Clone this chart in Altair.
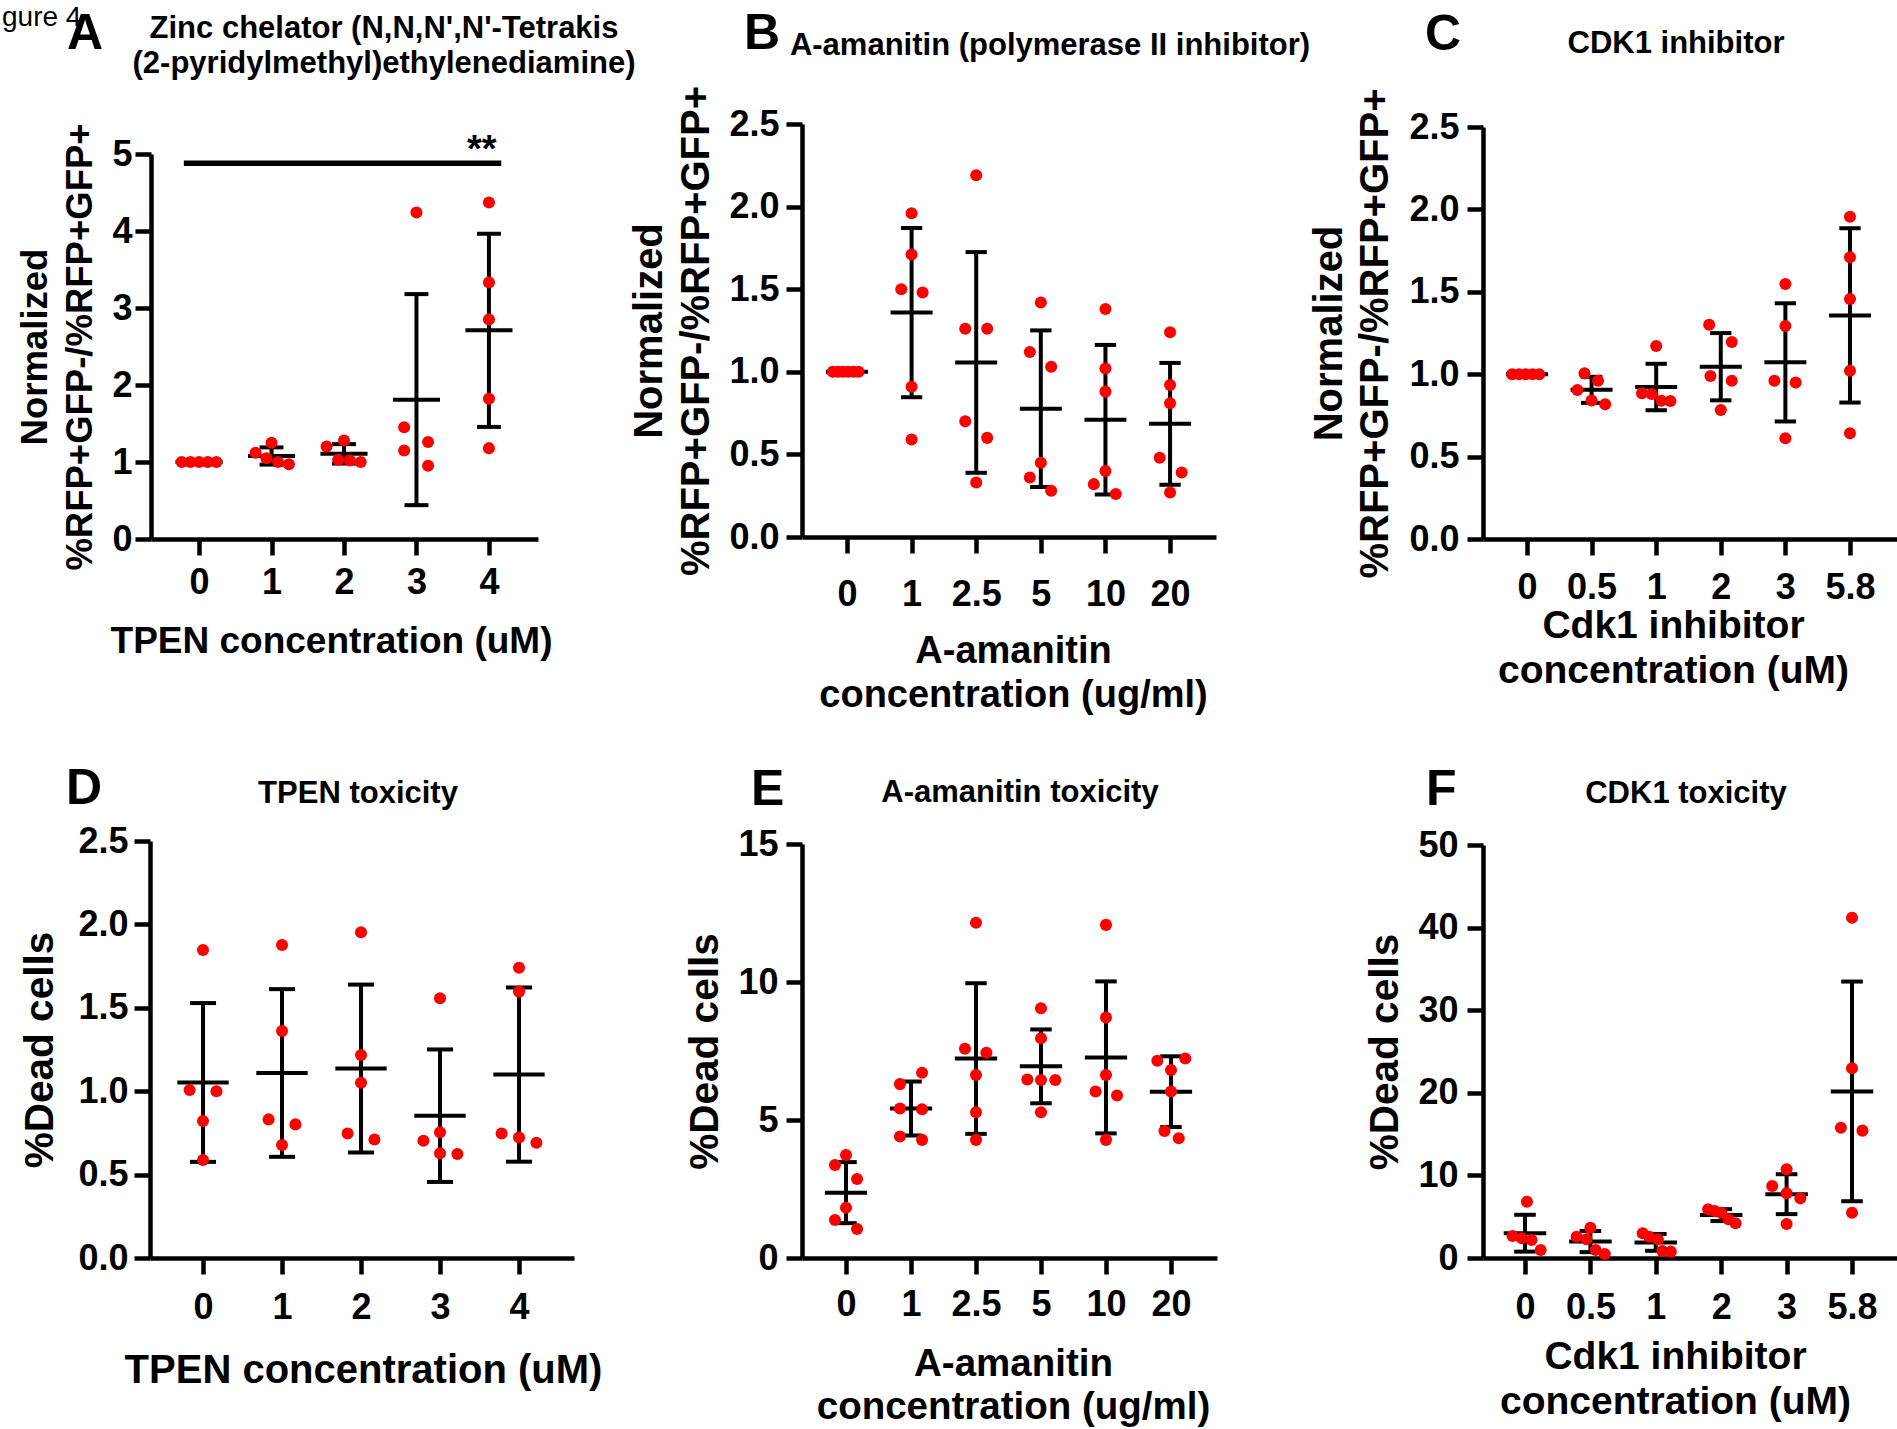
import altair as alt
import pandas as pd

W, H = 1897, 1429
FONT = "Liberation Sans"
RED = "#ff0000"
INK = "#000000"

# ---------------- data ----------------
# Panel A: TPEN, normalized %RFP+GFP-/%RFP+GFP+
A_LABELS = ["0", "1", "2", "3", "4"]
A_VALUES = [[1.0, 1.0, 1.0, 1.0, 1.0],
            [1.25, 1.12, 1.05, 1.00, 0.97],
            [1.28, 1.20, 1.03, 1.02, 1.00],
            [4.24, 1.45, 1.26, 1.15, 0.95],
            [4.37, 3.33, 2.85, 1.82, 1.18]]
A_JITTER = [[-0.24, -0.12, 0.0, 0.12, 0.24],
            [0.0, -0.22, -0.07, 0.09, 0.24],
            [0.0, -0.24, -0.08, 0.08, 0.23],
            [0.0, -0.17, 0.16, -0.17, 0.16],
            [0.0, 0.0, 0.0, 0.0, 0.0]]

# Panel B: A-amanitin, normalized ratio
B_LABELS = ["0", "1", "2.5", "5", "10", "20"]
B_VALUES = [[1.0, 1.0, 1.0, 1.0, 1.0, 1.0],
            [1.96, 1.71, 1.50, 1.48, 0.91, 0.59],
            [2.19, 1.26, 1.26, 0.70, 0.60, 0.33],
            [1.42, 1.12, 1.03, 0.45, 0.36, 0.28],
            [1.38, 1.02, 0.88, 0.40, 0.32, 0.26],
            [1.24, 0.92, 0.81, 0.48, 0.39, 0.27]]
B_JITTER = [[-0.22, -0.14, -0.06, 0.02, 0.10, 0.18],
            [0.0, 0.0, -0.16, 0.17, 0.0, 0.0],
            [0.0, -0.17, 0.17, -0.17, 0.17, 0.0],
            [0.0, -0.17, 0.16, 0.0, -0.17, 0.16],
            [0.0, 0.0, 0.0, 0.0, -0.18, 0.16],
            [0.0, 0.0, 0.0, -0.16, 0.18, 0.0]]

# Panel C: CDK1 inhibitor, normalized ratio
C_LABELS = ["0", "0.5", "1", "2", "3", "5.8"]
C_VALUES = [[1.0, 1.0, 1.0, 1.0, 1.0],
            [1.005, 0.96, 0.904, 0.84, 0.817],
            [1.171, 0.884, 0.88, 0.839, 0.837],
            [1.30, 1.195, 0.989, 0.96, 0.783],
            [1.547, 1.292, 0.96, 0.949, 0.611],
            [1.956, 1.71, 1.456, 1.021, 0.641]]
C_JITTER = [[-0.23, -0.125, -0.02, 0.085, 0.19],
            [-0.11, 0.10, -0.22, 0.0, 0.21],
            [0.0, -0.22, -0.07, 0.08, 0.22],
            [-0.18, 0.17, -0.16, 0.17, 0.0],
            [0.0, 0.0, -0.17, 0.16, 0.0],
            [0.0, 0.0, 0.0, 0.0, 0.0]]

# Panel D: TPEN toxicity, %dead cells
D_LABELS = ["0", "1", "2", "3", "4"]
D_VALUES = [[1.847, 1.007, 1.0, 0.821, 0.587],
            [1.876, 1.361, 0.831, 0.801, 0.677],
            [1.953, 1.217, 1.051, 0.747, 0.711],
            [1.557, 0.754, 0.703, 0.628, 0.624],
            [1.74, 1.597, 0.747, 0.723, 0.691]]
D_JITTER = [[0.0, -0.17, 0.17, 0.0, 0.0],
            [0.0, 0.0, -0.17, 0.17, 0.0],
            [0.0, 0.0, 0.0, -0.17, 0.17],
            [0.0, 0.0, -0.21, 0.0, 0.22],
            [0.0, 0.0, -0.22, 0.0, 0.22]]

# Panel E: A-amanitin toxicity, %dead cells
E_LABELS = ["0", "1", "2.5", "5", "10", "20"]
E_VALUES = [[3.73, 3.37, 2.86, 1.82, 1.38, 1.05],
            [6.71, 6.30, 5.42, 5.39, 4.40, 4.28],
            [12.15, 7.58, 7.44, 6.63, 5.28, 4.28],
            [9.05, 7.96, 6.47, 6.45, 6.45, 5.28],
            [12.07, 8.71, 6.63, 6.03, 5.89, 4.28],
            [7.23, 7.15, 6.81, 6.03, 4.60, 4.34]]
E_JITTER = [[0.0, -0.17, 0.17, 0.0, -0.17, 0.17],
            [0.17, -0.17, -0.17, 0.17, -0.17, 0.17],
            [0.0, -0.17, 0.16, 0.0, 0.0, 0.0],
            [0.0, 0.0, -0.21, 0.0, 0.22, 0.0],
            [0.0, 0.0, 0.0, -0.16, 0.17, 0.0],
            [0.22, -0.21, 0.0, 0.0, -0.10, 0.12]]

# Panel F: CDK1 toxicity, %dead cells
F_LABELS = ["0", "0.5", "1", "2", "3", "5.8"]
F_VALUES = [[6.82, 2.66, 2.38, 2.18, 0.97],
            [3.67, 2.58, 2.26, 0.97, 0.48],
            [2.99, 2.58, 2.26, 0.85, 0.77],
            [5.90, 5.69, 5.49, 4.68, 4.20],
            [10.74, 8.72, 7.83, 7.22, 4.12],
            [41.2, 22.96, 15.78, 15.42, 5.49]]
F_JITTER = [[0.03, -0.19, -0.05, 0.10, 0.24],
            [0.0, -0.21, -0.06, 0.08, 0.22],
            [-0.20, -0.10, 0.03, 0.10, 0.23],
            [-0.20, -0.10, 0.0, 0.11, 0.22],
            [0.0, -0.22, 0.0, 0.21, 0.0],
            [0.0, 0.0, -0.17, 0.16, 0.0]]

# significance annotation in panel A (category units / data units)
SIG = pd.DataFrame({"x1": [-0.21], "x2": [4.17], "y": [4.88],
                    "tx": [3.9], "ty": [4.89], "label": ["**"]})

NORM_TITLE = ["Normalized", "%RFP+GFP-/%RFP+GFP+"]
DEAD_TITLE = "%Dead cells"

# ---------------- styling ----------------
AXIS_W = 4.5
LINE_W = 4
CAP_HALF = 0.165
MEAN_HALF = 0.325
DOT_SIZE = 145


def make_df(values, jitter):
    rows = []
    for i, (vals, jits) in enumerate(zip(values, jitter)):
        for v, j in zip(vals, jits):
            rows.append({"cat": i, "v": v, "jit": j})
    return pd.DataFrame(rows)


COMMON_AXIS = dict(grid=False, domainColor=INK, tickColor=INK, labelColor=INK,
                   titleColor=INK, domainWidth=AXIS_W, tickWidth=AXIS_W,
                   labelFont=FONT, titleFont=FONT, labelFontWeight="bold",
                   titleFontWeight="bold", labelOverlap=False, labelFlush=False,
                   labelFontSize=36, tickSize=16)


def label_expr(labels):
    expr = "''"
    for i in reversed(range(len(labels))):
        expr = "datum.value == %d ? '%s' : (%s)" % (i, labels[i], expr)
    return expr


def panel(p, extra=None):
    """Return a flat list of layers for one panel (all share identical scale specs)."""
    df = make_df(p["values"], p["jitter"])
    xs = alt.Scale(domain=p["xdom"], range=p["xrng"], nice=False, zero=False)
    ys = alt.Scale(domain=p["ydom"], range=p["yrng"], nice=False, zero=False)
    n = len(p["labels"])

    xaxis = alt.Axis(orient="bottom", offset=p["yrng"][0] - H,
                     values=list(range(n)), labelExpr=label_expr(p["labels"]),
                     labelAngle=0, labelPadding=p["xlabpad"],
                     title=p["xtitle"], titleFontSize=p["xtfs"],
                     titleX=p["xtx"], titleY=p["xty"], titleBaseline="alphabetic",
                     titleLineHeight=p["xtlh"], titleAlign="center", **COMMON_AXIS)
    yaxis = alt.Axis(orient="left", offset=-p["xrng"][0], values=p["yticks"],
                     format=p["yfmt"], labelPadding=p["ylabpad"],
                     title=p["ytitle"], titleFontSize=p["ytfs"], titleX=p["ytx"],
                     titleAngle=270, titleBaseline="alphabetic",
                     titleLineHeight=p["ytlh"], titleAlign="center", **COMMON_AXIS)

    stats = alt.Chart(df).transform_aggregate(
        m="mean(v)", s="stdev(v)", groupby=["cat"]
    ).transform_calculate(
        lo="datum.m - datum.s", hi="datum.m + datum.s",
        cl="datum.cat - %f" % CAP_HALF, cr="datum.cat + %f" % CAP_HALF,
        ml="datum.cat - %f" % MEAN_HALF, mr="datum.cat + %f" % MEAN_HALF,
    )
    rule = dict(color=INK, strokeWidth=LINE_W)
    bar = stats.mark_rule(**rule).encode(
        x=alt.X("cat:Q", scale=xs, axis=None),
        y=alt.Y("lo:Q", scale=ys, axis=None), y2="hi:Q")
    cap_hi = stats.mark_rule(**rule).encode(
        x=alt.X("cl:Q", scale=xs, axis=None), x2="cr:Q",
        y=alt.Y("hi:Q", scale=ys, axis=None))
    cap_lo = stats.mark_rule(**rule).encode(
        x=alt.X("cl:Q", scale=xs, axis=None), x2="cr:Q",
        y=alt.Y("lo:Q", scale=ys, axis=None))
    mean = stats.mark_rule(**rule).encode(
        x=alt.X("ml:Q", scale=xs, axis=None), x2="mr:Q",
        y=alt.Y("m:Q", scale=ys, axis=None))
    pts = alt.Chart(df).transform_calculate(px="datum.cat + datum.jit").mark_circle(
        color=RED, size=DOT_SIZE, opacity=1
    ).encode(x=alt.X("px:Q", scale=xs, axis=xaxis),
             y=alt.Y("v:Q", scale=ys, axis=yaxis))

    layers = [bar, cap_hi, cap_lo, mean]
    if extra is not None:
        layers += extra(xs, ys)
    layers.append(pts)
    return layers


def sig_layers(xs, ys):
    r = alt.Chart(SIG).mark_rule(color=INK, strokeWidth=5.5).encode(
        x=alt.X("x1:Q", scale=xs, axis=None), x2="x2:Q",
        y=alt.Y("y:Q", scale=ys, axis=None))
    t = alt.Chart(SIG).mark_text(font=FONT, fontWeight="bold", fontSize=38,
                                 baseline="alphabetic", align="center", color=INK).encode(
        x=alt.X("tx:Q", scale=xs, axis=None), y=alt.Y("ty:Q", scale=ys, axis=None),
        text="label:N")
    return [r, t]


TICKS_25 = [0, 0.5, 1.0, 1.5, 2.0, 2.5]

PANELS = [
    dict(values=A_VALUES, jitter=A_JITTER, labels=A_LABELS,
         xdom=[-0.663, 4.677], xrng=[151, 538], ydom=[0, 5], yrng=[539, 154],
         yticks=[0, 1, 2, 3, 4, 5], yfmt="d", xlabpad=10, ylabpad=3,
         xtitle="TPEN concentration (uM)", xtfs=37, xtx=331, xty=113, xtlh=44,
         ytitle=NORM_TITLE, ytfs=36.5, ytx=-105, ytlh=45),
    dict(values=B_VALUES, jitter=B_JITTER, labels=B_LABELS,
         xdom=[-0.696, 5.711], xrng=[802, 1216], ydom=[0, 2.5], yrng=[537, 124],
         yticks=TICKS_25, yfmt=".1f", xlabpad=24, ylabpad=7,
         xtitle=["A-amanitin", "concentration (ug/ml)"], xtfs=38, xtx=1013, xty=125, xtlh=44,
         ytitle=NORM_TITLE, ytfs=40, ytx=-141, ytlh=47),
    dict(values=C_VALUES, jitter=C_JITTER, labels=C_LABELS,
         xdom=[-0.681, 5.728], xrng=[1483, 1897], ydom=[0, 2.5], yrng=[539, 127],
         yticks=TICKS_25, yfmt=".1f", xlabpad=15, ylabpad=8,
         xtitle=["Cdk1 inhibitor", "concentration (uM)"], xtfs=39, xtx=1673, xty=98, xtlh=45,
         ytitle=NORM_TITLE, ytfs=40, ytx=-142, ytlh=46),
    dict(values=D_VALUES, jitter=D_JITTER, labels=D_LABELS,
         xdom=[-0.671, 4.696], xrng=[150, 574], ydom=[0, 2.5], yrng=[1258, 841],
         yticks=TICKS_25, yfmt=".1f", xlabpad=16, ylabpad=6,
         xtitle="TPEN concentration (uM)", xtfs=40, xtx=363, xty=124, xtlh=44,
         ytitle=DEAD_TITLE, ytfs=40.5, ytx=-98, ytlh=44),
    dict(values=E_VALUES, jitter=E_JITTER, labels=E_LABELS,
         xdom=[-0.677, 5.708], xrng=[802, 1217], ydom=[0, 15], yrng=[1258, 844],
         yticks=[0, 5, 10, 15], yfmt="d", xlabpad=13, ylabpad=8,
         xtitle=["A-amanitin", "concentration (ug/ml)"], xtfs=38.5, xtx=1013, xty=117, xtlh=43,
         ytitle=DEAD_TITLE, ytfs=40.5, ytx=-85, ytlh=44),
    dict(values=F_VALUES, jitter=F_JITTER, labels=F_LABELS,
         xdom=[-0.642, 5.688], xrng=[1483, 1897], ydom=[0, 50], yrng=[1258, 845],
         yticks=[0, 10, 20, 30, 40, 50], yfmt="d", xlabpad=16, ylabpad=9,
         xtitle=["Cdk1 inhibitor", "concentration (uM)"], xtfs=39, xtx=1675, xty=110, xtlh=45,
         ytitle=DEAD_TITLE, ytfs=40.5, ytx=-86, ytlh=44),
]


def note(text, x, y, size, align="center", weight="bold", lh=None):
    kw = dict(text=text, font=FONT, fontSize=size, fontWeight=weight, align=align,
              baseline="alphabetic", color=INK)
    if lh is not None:
        kw["lineHeight"] = lh
    return alt.Chart(alt.Data(values=[{}])).mark_text(**kw).encode(
        x=alt.value(x), y=alt.value(y))


NOTES = [
    note("gure 4", 2, 26, 28, align="left", weight="normal"),
    note(["Zinc chelator (N,N,N',N'-Tetrakis", "(2-pyridylmethyl)ethylenediamine)"],
         384, 38, 31, lh=35),
    note("A-amanitin (polymerase II inhibitor)", 1050, 55, 31),
    note("CDK1 inhibitor", 1676, 53, 31),
    note("TPEN toxicity", 358, 803, 31),
    note("A-amanitin toxicity", 1020, 802, 31),
    note("CDK1 toxicity", 1686, 803, 31),
    note("A", 67, 49, 50, align="left"),
    note("B", 744, 49, 50, align="left"),
    note("C", 1425, 50, 50, align="left"),
    note("D", 66, 804, 50, align="left"),
    note("E", 751, 805, 50, align="left"),
    note("F", 1426, 805, 50, align="left"),
]

layers = panel(PANELS[0], extra=sig_layers)
for p in PANELS[1:]:
    layers += panel(p)

chart = alt.layer(*layers, *NOTES).resolve_scale(
    x="independent", y="independent"
).resolve_axis(
    x="independent", y="independent"
).properties(
    width=W, height=H, padding=0, autosize=alt.AutoSizeParams(type="none")
).configure_view(stroke=None)

chart.save("out.html", embed_options={"renderer": "svg", "actions": False})
